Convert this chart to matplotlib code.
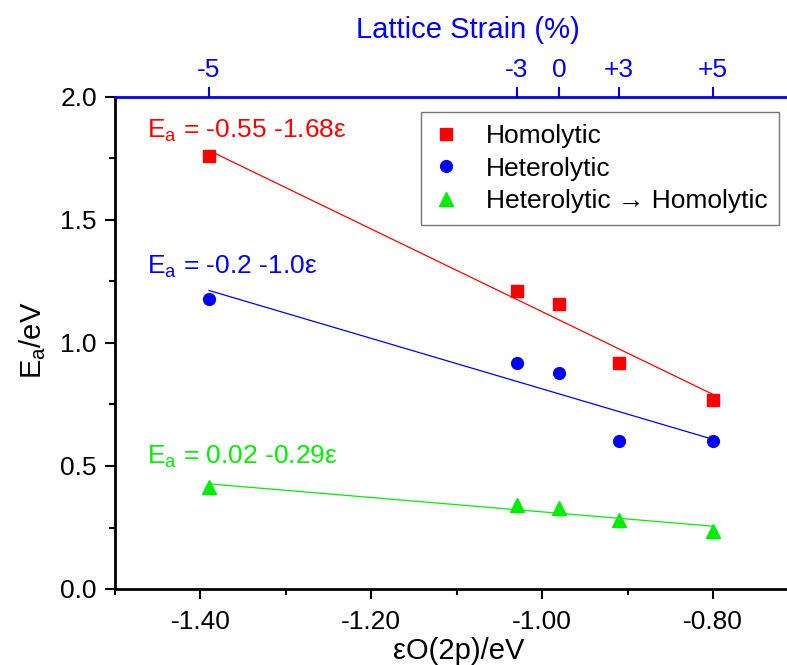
import numpy as np
import matplotlib
matplotlib.use("Agg")
import matplotlib.pyplot as plt

plt.rcParams['font.family'] = ['Liberation Sans', 'DejaVu Sans']
plt.rcParams['mathtext.fontset'] = 'custom'
plt.rcParams['mathtext.rm'] = 'Liberation Sans'
plt.rcParams['mathtext.it'] = 'Liberation Sans'

# Data
eps_o2p = [-1.39, -1.03, -0.98, -0.91, -0.80]
strain_labels = ['-5', '-3', '0', '+3', '+5']
homolytic = [1.76, 1.21, 1.16, 0.92, 0.77]
heterolytic = [1.18, 0.92, 0.88, 0.60, 0.60]
het_to_hom = [0.415, 0.34, 0.33, 0.28, 0.235]
eq_texts = ['E$_\\mathregular{a}$ = -0.55 -1.68\u03b5',
            'E$_\\mathregular{a}$ = -0.2 -1.0\u03b5',
            'E$_\\mathregular{a}$ = 0.02 -0.29\u03b5']
eq_y = [1.835, 1.283, 0.51]
names = ['Homolytic', 'Heterolytic', 'Heterolytic \u2192 Homolytic']
colors = ['#ff0000', '#0000ff', '#00ee00']
markers = ['s', 'o', '^']
msizes = [8, 8.5, 9.5]

FS = 19
TFS = 21

fig = plt.figure(figsize=(7.87, 6.65), dpi=100)
ax = fig.add_axes([115/787, 1-589/665, (798.5-115)/787, (589-97)/665])

x = np.array(eps_o2p)
for ys, c, m, ms, name, t, ty in zip([homolytic, heterolytic, het_to_hom], colors, markers, msizes, names, eq_texts, eq_y):
    y = np.array(ys)
    ax.plot(x, y, linestyle='none', marker=m, color=c, markersize=ms, label=name, zorder=3)
    k, b = np.polyfit(x, y, 1)
    ax.plot([x.min(), x.max()], [k*x.min()+b, k*x.max()+b], color=c, linewidth=0.9, zorder=2)
    ax.text(-1.4626, ty, t, color=c, fontsize=FS, va='baseline', ha='left')

ax.set_xlim(-1.5, -0.7)
ax.set_ylim(0, 2.0)
ax.set_xticks([-1.4, -1.2, -1.0, -0.8])
ax.set_xticklabels(['-1.40', '-1.20', '-1.00', '-0.80'])
ax.set_xticks([-1.5, -1.3, -1.1, -0.9], minor=True)
ax.set_yticks([0.0, 0.5, 1.0, 1.5, 2.0])
ax.set_yticklabels(['0.0', '0.5', '1.0', '1.5', '2.0'])
ax.set_yticks([0.25, 0.75, 1.25, 1.75], minor=True)
ax.tick_params(axis='both', which='major', direction='out', length=7, width=1.5, labelsize=FS, pad=6)
ax.tick_params(axis='both', which='minor', direction='out', length=4, width=1.5)
ax.tick_params(axis='x', which='major', pad=8)
for s in ['left', 'bottom']:
    ax.spines[s].set_linewidth(2)
ax.spines['right'].set_visible(False)
ax.spines['top'].set_visible(False)

ax2 = ax.twiny()
ax2.set_xlim(ax.get_xlim())
ax2.set_xticks(eps_o2p)
ax2.set_xticklabels(strain_labels)
ax2.tick_params(axis='x', which='major', direction='out', length=7, width=1.5, labelsize=FS,
                colors='#0000ff', pad=4)
ax2.spines['top'].set_color('#0000ff')
ax2.spines['top'].set_linewidth(2)
ax2.spines['right'].set_visible(False)
ax2.spines['left'].set_visible(False)
ax2.spines['bottom'].set_visible(False)

fig.text(468/787, 1-38/665, 'Lattice Strain (%)', color='#0000ff', fontsize=TFS, ha='center', va='baseline')
fig.text(459/787, 1-659/665, '\u03b5O(2p)/eV', color='black', fontsize=TFS, ha='center', va='baseline')
fig.text(33/787, 1-340/665, 'E$_\\mathregular{a}$/eV', color='black', fontsize=TFS, ha='center', va='center', rotation=90)

leg = ax.legend(loc='upper left', bbox_to_anchor=((421-115)/683.5, 1-(112-97)/492), frameon=True,
                fancybox=False, edgecolor='#555555', fontsize=FS, handlelength=1.0,
                handletextpad=1.0, borderpad=0.45, labelspacing=0.33, borderaxespad=0)
leg.get_frame().set_linewidth(1.0)

fig.savefig('out.png', dpi=100)
